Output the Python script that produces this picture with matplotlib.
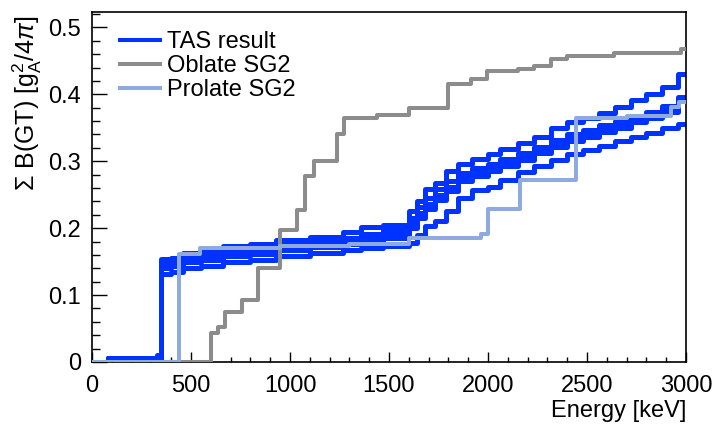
import matplotlib
matplotlib.use("Agg")
import matplotlib.pyplot as plt
from matplotlib.ticker import MultipleLocator, FuncFormatter

# Datos
tas_edges = [0, 80, 330, 350, 400, 460, 550, 660, 800, 930, 1100, 1270, 1360, 1470,
             1600, 1640, 1680, 1730, 1790, 1850, 1920, 2000, 2060, 2150, 2230, 2320,
             2400, 2480, 2560, 2640, 2720, 2800, 2880, 2960, 3000]
tas_top = [0, 0.006, 0.010, 0.154, 0.156, 0.163, 0.168, 0.173, 0.177, 0.182, 0.187,
           0.194, 0.201, 0.205, 0.225, 0.240, 0.259, 0.268, 0.285, 0.296, 0.304,
           0.311, 0.319, 0.327, 0.336, 0.350, 0.358, 0.364, 0.372, 0.381, 0.391,
           0.400, 0.411, 0.431]
tas_mid_hi = [0, 0.006, 0.006, 0.148, 0.151, 0.157, 0.161, 0.166, 0.170, 0.175, 0.180,
              0.186, 0.192, 0.197, 0.215, 0.232, 0.245, 0.258, 0.270, 0.282, 0.290,
              0.296, 0.304, 0.312, 0.322, 0.331, 0.340, 0.347, 0.354, 0.360, 0.368,
              0.374, 0.382, 0.396]
tas_mid = [0, 0.006, 0.006, 0.144, 0.147, 0.153, 0.157, 0.162, 0.166, 0.171, 0.176,
           0.181, 0.186, 0.191, 0.207, 0.223, 0.236, 0.250, 0.262, 0.276, 0.284,
           0.290, 0.298, 0.307, 0.317, 0.326, 0.335, 0.341, 0.348, 0.355, 0.363,
           0.369, 0.378, 0.393]
tas_mid_lo = [0, 0.006, 0.006, 0.140, 0.143, 0.149, 0.153, 0.158, 0.162, 0.167, 0.172,
              0.176, 0.181, 0.185, 0.200, 0.215, 0.228, 0.242, 0.255, 0.270, 0.278,
              0.285, 0.293, 0.302, 0.312, 0.321, 0.330, 0.336, 0.343, 0.350, 0.358,
              0.365, 0.374, 0.390]
tas_low = [0, 0.006, 0.006, 0.132, 0.135, 0.140, 0.144, 0.150, 0.153, 0.158, 0.163,
           0.167, 0.171, 0.174, 0.178, 0.190, 0.203, 0.210, 0.225, 0.245, 0.257,
           0.262, 0.272, 0.284, 0.293, 0.302, 0.311, 0.317, 0.323, 0.330, 0.336,
           0.342, 0.349, 0.356]

oblate_edges = [0, 600, 636, 673, 757, 840, 951, 1036, 1078, 1119, 1238, 1272, 1440,
                1600, 1800, 1915, 1997, 2149, 2231, 2317, 2401, 2636, 2975, 3000]
oblate_vals = [0, 0.044, 0.053, 0.074, 0.092, 0.140, 0.197, 0.227, 0.278, 0.301,
               0.340, 0.364, 0.369, 0.380, 0.416, 0.423, 0.435, 0.438, 0.443, 0.453,
               0.457, 0.462, 0.467]

prolate_edges = [0, 437, 546, 950, 1300, 1600, 1963, 2000, 2160, 2443, 2700, 2924,
                 2966, 3000]
prolate_vals = [0, 0.162, 0.170, 0.173, 0.176, 0.186, 0.192, 0.228, 0.272, 0.364,
                0.367, 0.381, 0.388]

C_TAS = '#0033ff'
C_OBL = '#8c8c8c'
C_PRO = '#8faadc'
LW = 2.9
LW_TAS = 3.6

plt.rcParams['font.family'] = ['Liberation Sans', 'DejaVu Sans']
plt.rcParams['mathtext.fontset'] = 'custom'
plt.rcParams['mathtext.rm'] = 'Liberation Sans'
plt.rcParams['mathtext.it'] = 'Liberation Sans:italic'
plt.rcParams['mathtext.sf'] = 'Liberation Sans'
FS = 17


def escalon(edges, vals):
    return edges, list(vals) + [vals[-1]]


fig = plt.figure(figsize=(7.16, 4.26), dpi=100)
ax = fig.add_axes([92 / 716, 64 / 426, 594 / 716, 350 / 426])

for i, serie in enumerate([tas_top, tas_mid_hi, tas_mid, tas_mid_lo, tas_low]):
    x, y = escalon(tas_edges, serie)
    ax.plot(x, y, drawstyle='steps-post', color=C_TAS, lw=LW_TAS, zorder=2,
            label='TAS result' if i == 0 else None)

x, y = escalon(oblate_edges, oblate_vals)
ax.plot(x, y, drawstyle='steps-post', color=C_OBL, lw=LW, zorder=3, label='Oblate SG2')
x, y = escalon(prolate_edges, prolate_vals)
ax.plot(x, y, drawstyle='steps-post', color=C_PRO, lw=LW, zorder=4, label='Prolate SG2')

ax.set_xlim(0, 3000)
ax.set_ylim(0, 0.523)

ax.xaxis.set_major_locator(MultipleLocator(500))
ax.xaxis.set_minor_locator(MultipleLocator(100))
ax.yaxis.set_major_locator(MultipleLocator(0.1))
ax.yaxis.set_minor_locator(MultipleLocator(0.02))
ax.yaxis.set_major_formatter(FuncFormatter(lambda v, p: '0' if abs(v) < 1e-9 else f'{v:.1f}'))
ax.xaxis.set_major_formatter(FuncFormatter(lambda v, p: f'{v:.0f}'))

ax.tick_params(axis='x', which='major', direction='in', length=7.2, width=1.0,
               labelsize=FS, pad=9)
ax.tick_params(axis='x', which='minor', direction='in', length=3.6, width=1.0)
ax.tick_params(axis='y', which='major', direction='in', length=11, width=1.0,
               labelsize=FS, pad=8)
ax.tick_params(axis='y', which='minor', direction='in', length=5.5, width=1.0)
for s in ax.spines.values():
    s.set_linewidth(1.2)

ax.set_xlabel('Energy [keV]', fontsize=FS, loc='right')
ax.xaxis.set_label_coords(1.0, -0.108)
ax.set_ylabel(r'$\Sigma$ B(GT) [g$_{\mathrm{A}}^{2}$/4$\pi$]', fontsize=18, loc='top')
ax.yaxis.set_label_coords(-0.08, 0.99)

leg = ax.legend(loc='upper left', bbox_to_anchor=(120 / 716, 1 - 31 / 426),
                bbox_transform=fig.transFigure, frameon=False, fontsize=FS,
                borderpad=0, borderaxespad=0, handlelength=1.7, handletextpad=0.3,
                labelspacing=0.08)
for h in leg.get_lines():
    h.set_linewidth(LW)

fig.savefig('out.png', dpi=100)
